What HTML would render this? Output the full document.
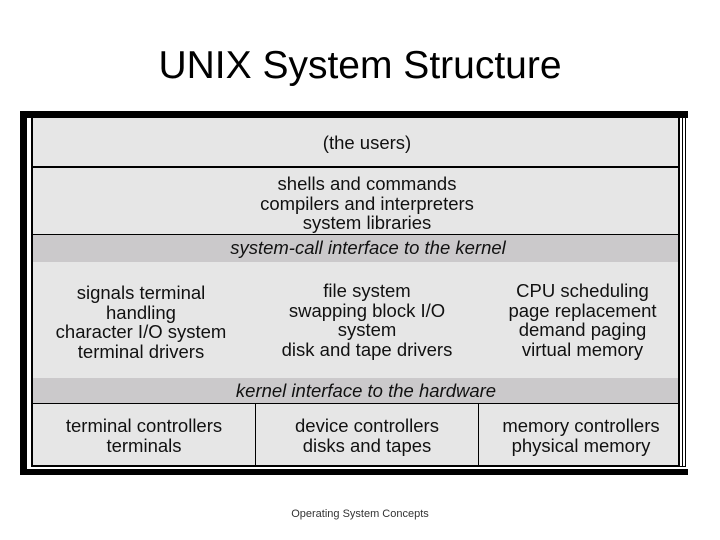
<!DOCTYPE html>
<html><head><meta charset="utf-8"><style>
body{margin:0;width:720px;height:540px;background:#fff;position:relative;overflow:hidden;font-family:"Liberation Sans",sans-serif}
.a{position:absolute}
.t{position:absolute;text-align:center;font-size:18.5px;line-height:19.5px;color:#111;white-space:nowrap}
.g{background:#e6e6e6}
.d{background:#cbc9cb}
.k{background:#000}
</style></head><body>
<div class="a" style="left:0;top:44px;width:720px;text-align:center;font-size:39px;color:#000">UNIX System Structure</div>
<div class="a k" style="left:20px;top:111px;width:668px;height:364px"></div>
<div class="a" style="left:27px;top:118px;width:661px;height:351px;background:#fff"></div>
<div class="a k" style="left:31px;top:118px;width:655px;height:349px"></div>
<div class="a" style="left:683px;top:118px;width:2px;height:348px;background:#fff"></div>
<div class="a" style="left:680px;top:118px;width:2px;height:348px;background:#fff"></div>
<div class="a g" style="left:33px;top:118px;width:645px;height:48px"></div>
<div class="a g" style="left:33px;top:168px;width:645px;height:66px"></div>
<div class="a d" style="left:33px;top:235px;width:645px;height:27px"></div>
<div class="a g" style="left:33px;top:262px;width:645px;height:116px"></div>
<div class="a d" style="left:33px;top:378px;width:645px;height:25px"></div>
<div class="a g" style="left:33px;top:404px;width:222px;height:61px"></div>
<div class="a g" style="left:256px;top:404px;width:222px;height:61px"></div>
<div class="a g" style="left:479px;top:404px;width:199px;height:61px"></div>
<div class="t" style="left:33px;width:668px;top:133px">(the users)</div>
<div class="t" style="left:33px;width:668px;top:174px">shells and commands<br>compilers and interpreters<br>system libraries</div>
<div class="t" style="left:33px;width:670px;top:238px;font-style:italic">system-call interface to the kernel</div>
<div class="t" style="left:30px;width:222px;top:283px">signals terminal<br>handling<br>character I/O system<br>terminal drivers</div>
<div class="t" style="left:256px;width:222px;top:281px">file system<br>swapping block I/O<br>system<br>disk and tape drivers</div>
<div class="t" style="left:483px;width:199px;top:281px">CPU scheduling<br>page replacement<br>demand paging<br>virtual memory</div>
<div class="t" style="left:33px;width:666px;top:381px;font-style:italic">kernel interface to the hardware</div>
<div class="t" style="left:33px;width:222px;top:416px">terminal controllers<br>terminals</div>
<div class="t" style="left:256px;width:222px;top:416px">device controllers<br>disks and tapes</div>
<div class="t" style="left:479px;width:204px;top:416px">memory controllers<br>physical memory</div>
<div class="a" style="left:0;width:720px;top:508px;text-align:center;font-size:11px;color:#333">Operating System Concepts</div>
</body></html>
